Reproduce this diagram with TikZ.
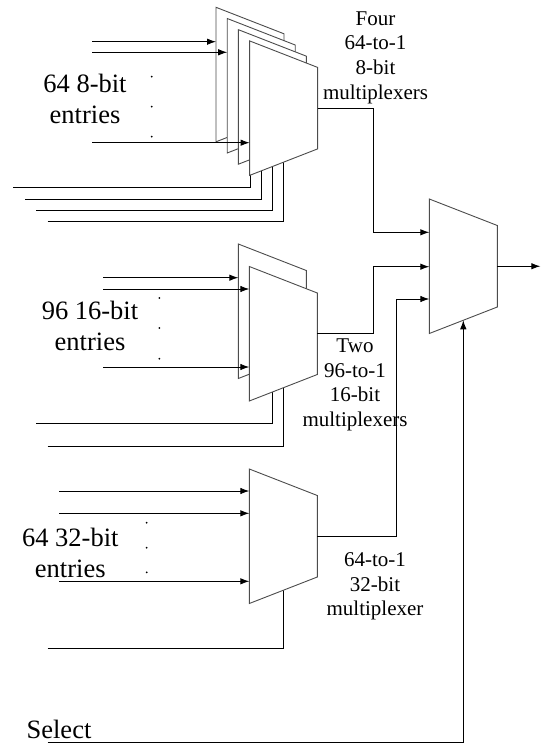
\documentclass[tikz,border=0pt]{standalone}
\usepackage{fontspec}
\setmainfont{Liberation Serif}
\usetikzlibrary{arrows.meta,backgrounds}

\begin{document}
\begin{tikzpicture}[x=1pt,y=-1pt,
    muxline/.style={draw=black!70, line width=0.9pt, fill=white},
    wire/.style={line width=0.9pt},
    arrowwire/.style={wire, -{Latex[length=9pt,width=6.5pt]}},
    biglabel/.style={align=center, font=\fontsize{26.5}{31}\selectfont},
    smalllabel/.style={align=center, font=\fontsize{21}{24.7}\selectfont},
    mux/.pic={
        \draw[muxline] (0,0) -- (68,26.5) -- (68,108) -- (0,134.5) -- cycle;
        \coordinate (-nw) at (0,0);
        \coordinate (-out) at (68,67.25);
        \coordinate (-sel) at (34,121.25);
    }]
            \useasboundingbox (0,0) rectangle (543,744);

            % the multiplexers, back to front
            \pic (A1) at (216,7.3) {mux};
            \pic (A2) at (227.2,18.5) {mux};
            \pic (A3) at (238.4,29.7) {mux};
            \pic (A4) at (249.6,40.9) {mux};
            \pic (B1) at (238.3,244) {mux};
            \pic (B2) at (249.3,266.5) {mux};
            \pic (C) at (249.3,469) {mux};
            \pic (D) at (429.3,199) {mux};

            % labels
            \node[biglabel] (L1) at (85,98.5) {64 8-bit\\entries};
            \node[biglabel] (L2) at (90,325.7) {96 16-bit\\entries};
            \node[biglabel] (L3) at (70.3,552.5) {64 32-bit\\entries};
            \node[biglabel, anchor=base] (L4) at (59,738) {Select};
            \node[smalllabel] (T1) at (375.5,57.5) {Four\\64-to-1\\8-bit\\multiplexers};
            \node[smalllabel] (T2) at (355,385) {Two\\96-to-1\\16-bit\\multiplexers};
            \node[smalllabel] (T3) at (375,586.5) {64-to-1\\32-bit\\multiplexer};

            % free ends of the inputs
            \coordinate (a1) at (92.3,41.7);
            \coordinate (a2) at (92.3,52.3);
            \coordinate (a3) at (92.3,142.7);
            \coordinate (b1) at (103.3,277.7);
            \coordinate (b2) at (103.3,289);
            \coordinate (b3) at (103.3,367);
            \coordinate (c1) at (59,491);
            \coordinate (c2) at (59,513.3);
            \coordinate (c3) at (59,581.3);
            \coordinate (sa1) at (13.3,187.3);
            \coordinate (sa2) at (25,199);
            \coordinate (sa3) at (36,210);
            \coordinate (sa4) at (47.7,221);
            \coordinate (sb1) at (36,423.3);
            \coordinate (sb2) at (47.7,446);
            \coordinate (sc) at (47.5,648.3);
            \coordinate (sel) at (47.5,742.7);
            \coordinate (d1) at ([yshift=-33.3pt]D-nw);
            \coordinate (d2) at ([yshift=-67.7pt]D-nw);
            \coordinate (d3) at ([yshift=-100pt]D-nw);

            % select lines behind the multiplexers
            \begin{pgfonlayer}{background}
            \draw[wire] (sa1) -| (A1-sel);
            \draw[wire] (sa2) -| (A2-sel);
            \draw[wire] (sa3) -| (A3-sel);
            \draw[wire] (sa4) -| (A4-sel);
            \draw[wire] (sb1) -| (B1-sel);
            \draw[wire] (sb2) -| (B2-sel);
            \draw[wire] (sc) -| (C-sel);
            \end{pgfonlayer}

            \draw[arrowwire] (a1) -- (a1 -| A1-nw);
            \draw[arrowwire] (a2) -- (a2 -| A2-nw);
            \draw[arrowwire] (a3) -- (a3 -| A4-nw);
            \draw[arrowwire] (b1) -- (b1 -| B1-nw);
            \draw[arrowwire] (b2) -- (b2 -| B2-nw);
            \draw[arrowwire] (b3) -- (b3 -| B2-nw);
            \draw[arrowwire] (c1) -- (c1 -| C-nw);
            \draw[arrowwire] (c2) -- (c2 -| C-nw);
            \draw[arrowwire] (c3) -- (c3 -| C-nw);

            \foreach \y in {76.7,106.7,136.7} \fill (151.7,\y) circle (1pt);
            \foreach \y in {298,328,358.7} \fill (159.3,\y) circle (1pt);
            \foreach \y in {522.7,547.7,572.3} \fill (146.7,\y) circle (1pt);

            % into the last multiplexer
            \draw[arrowwire] (A4-out) -- ++(55.7,0) |- (d1);
            \draw[arrowwire] (B2-out) -- ++(56,0) |- (d2);
            \draw[arrowwire] (C-out) -- ++(79.2,0) |- (d3);
            \draw[arrowwire] (D-out) -- ++(43,0);
            \draw[arrowwire] (sel) -| (D-sel);

\end{tikzpicture}
\end{document}
